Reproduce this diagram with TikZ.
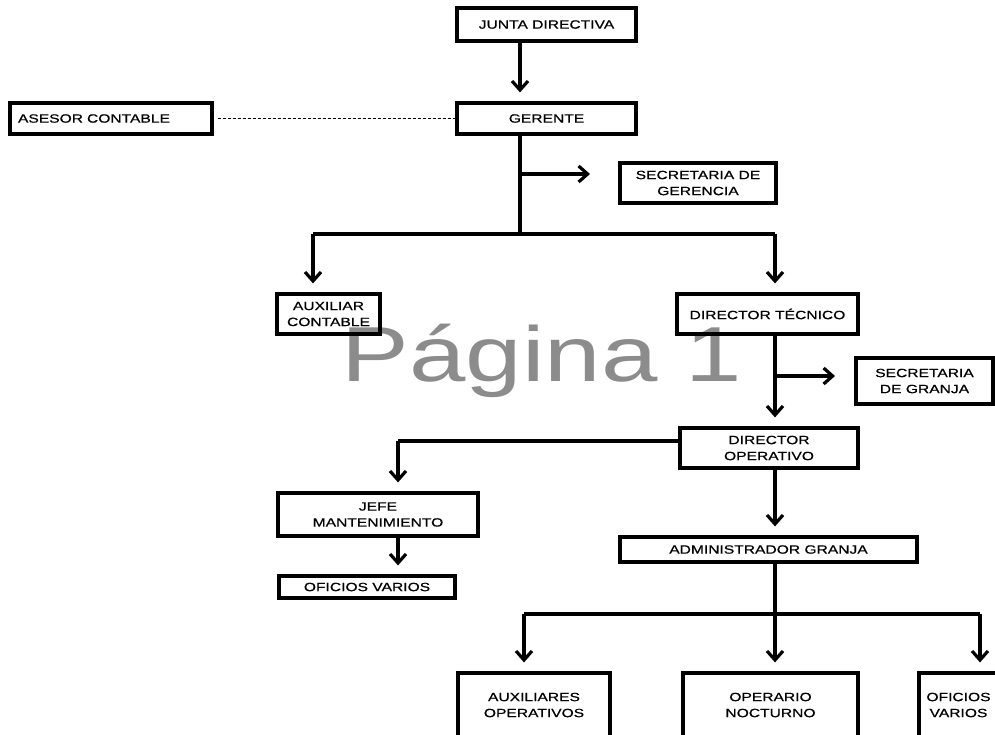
\documentclass[tikz,border=0pt]{standalone}
\usepackage{fontspec}
\setmainfont{Liberation Sans}[FakeStretch=1.3]
\newfontfamily\labelfont{Liberation Sans}[FakeStretch=1.3, FakeBold=0.6]
\usetikzlibrary{arrows.meta}
\definecolor{wmgray}{RGB}{140,140,140}
\begin{document}
\begin{tikzpicture}[x=1pt,y=-1pt,
  box/.style={draw, line width=3.2pt, inner sep=0pt, align=center,
    font=\labelfont\fontsize{12}{16}\selectfont},
  link/.style={line width=3.2pt},
  arr/.style={link, -{Straight Barb[length=9pt,width=16pt]}, shorten >=9pt},
  dotline/.style={line width=0.9pt, dash pattern=on 3pt off 2pt}]
\useasboundingbox (0,0) rectangle (995,734);
\clip (0,0) rectangle (995,734);

% page watermark
\node[anchor=base, text=wmgray, font=\fontsize{78}{80}\selectfont] (wm) at (542,381) {Página 1};

% boxes
\node[box, minimum width=179, minimum height=33] (jd) at (546.5,24.5) {JUNTA DIRECTIVA};
\node[box, minimum width=179, minimum height=31] (ger) at (546.5,118.5) {GERENTE};
\node[box, text width=186, inner xsep=8pt, align=left, minimum height=31] (ase) at (111,118.5) {ASESOR CONTABLE};
\node[box, minimum width=156, minimum height=40] (sg) at (698,183) {SECRETARIA DE\\GERENCIA};
\node[box, minimum width=103, minimum height=40] (auxc) at (328.5,314) {AUXILIAR\\CONTABLE};
\node[box, minimum width=181, minimum height=40] (dt) at (767.5,314) {DIRECTOR TÉCNICO};
\node[box, minimum width=137, minimum height=46] (sgr) at (924.5,381) {SECRETARIA\\DE GRANJA};
\node[box, minimum width=178, minimum height=40] (dop) at (769,448) {DIRECTOR\\OPERATIVO};
\node[box, minimum width=200, minimum height=43] (jefe) at (378,514.5) {JEFE\\MANTENIMIENTO};
\node[box, minimum width=176, minimum height=22] (ofv) at (367,587) {OFICIOS VARIOS};
\node[box, minimum width=297, minimum height=25] (adm) at (768.5,549.5) {ADMINISTRADOR GRANJA};
\node[box, minimum width=152, minimum height=64] (auxo) at (534,705) {AUXILIARES\\OPERATIVOS};
\node[box, minimum width=175, minimum height=64] (opn) at (770.5,705) {OPERARIO\\NOCTURNO};
\node[box, minimum width=79, minimum height=64] (ofv2) at (958.5,705) {OFICIOS\\VARIOS};

% trunk lines and branch points
\coordinate (ax) at (520,0);
\coordinate (cx) at (775,0);
\coordinate (split1) at (520,234);
\coordinate (sgb) at (520,174);
\coordinate (sgtip) at (590,174);
\coordinate (lx) at (313,234);
\coordinate (sgrb) at (775,376);
\coordinate (sgrtip) at (835,376);
\coordinate (jx) at (398,441);
\coordinate (split2) at (775,614);
\coordinate (lx2) at (524,614);
\coordinate (rx2) at (980,614);

% connectors
\draw[arr] (jd.south -| ax) -- (ger.north -| ax);
\draw[dotline] (ase.east) ++(4,0) -- (ger.west);
\draw[link] (ger.south -| ax) -- (split1);
\draw[arr, shorten >=0pt] (sgb) -- (sgtip);
\draw[link] (lx) -- (split1) -- (split1 -| cx);
\draw[arr] (lx) -- (auxc.north -| lx);
\draw[arr] (split1 -| cx) -- (dt.north -| cx);
\draw[arr] (dt.south -| cx) -- (dop.north -| cx);
\draw[arr, shorten >=0pt] (sgrb) -- (sgrtip);
\draw[link] (dop.west |- jx) -- (jx);
\draw[arr] (jx) -- (jefe.north -| jx);
\draw[arr] (jefe.south -| jx) -- (ofv.north -| jx);
\draw[arr] (dop.south -| cx) -- (adm.north -| cx);
\draw[link] (adm.south -| cx) -- (split2);
\draw[link] (lx2) -- (rx2);
\draw[arr] (lx2) -- (auxo.north -| lx2);
\draw[arr] (split2) -- (opn.north -| split2);
\draw[arr] (rx2) -- (ofv2.north -| rx2);
\end{tikzpicture}
\end{document}
